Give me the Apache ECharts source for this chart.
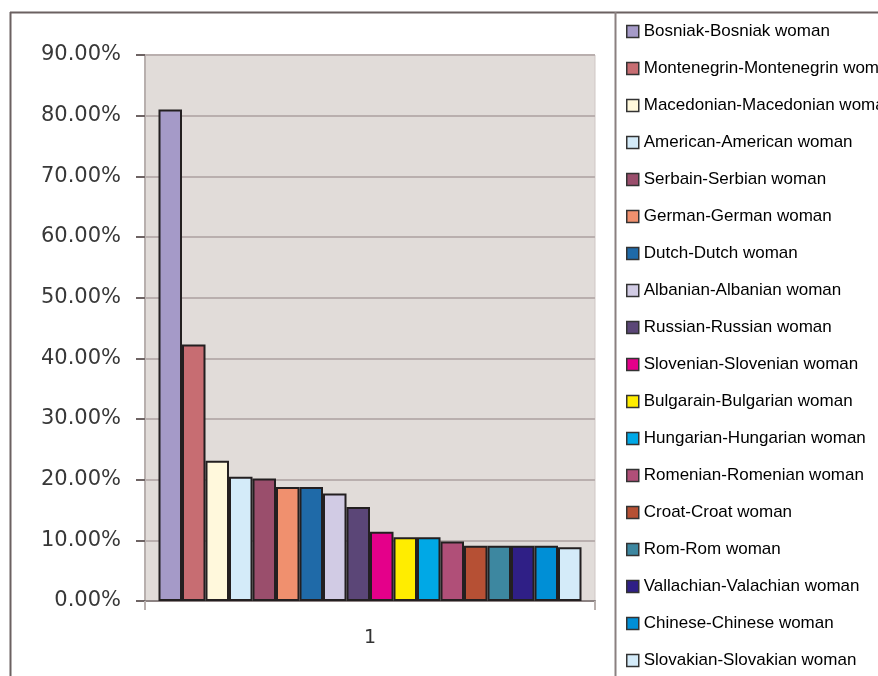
<!DOCTYPE html>
<html>
<head>
<meta charset="utf-8">
<script src="https://cdn.jsdelivr.net/npm/echarts@6/dist/echarts.min.js"></script>
<style>
html,body{margin:0;padding:0;background:#fff;}
#chart{width:878px;height:676px;}
</style>
</head>
<body>
<div id="chart"></div>
<script>
var categories = ['1'];
var seriesNames = [
  'Bosniak-Bosniak woman',
  'Montenegrin-Montenegrin woman',
  'Macedonian-Macedonian woman',
  'American-American woman',
  'Serbain-Serbian woman',
  'German-German woman',
  'Dutch-Dutch woman',
  'Albanian-Albanian woman',
  'Russian-Russian woman',
  'Slovenian-Slovenian woman',
  'Bulgarain-Bulgarian woman',
  'Hungarian-Hungarian woman',
  'Romenian-Romenian woman',
  'Croat-Croat woman',
  'Rom-Rom woman',
  'Vallachian-Valachian woman',
  'Chinese-Chinese woman',
  'Slovakian-Slovakian woman'
];
var seriesValues = [0.81, 0.423, 0.231, 0.205, 0.202, 0.188, 0.188, 0.177, 0.155, 0.114, 0.105, 0.105, 0.098, 0.091, 0.091, 0.091, 0.091, 0.0885];
var seriesColors = ['#a59ac8','#c76d72','#fff8dc','#d4ebf9','#9a4e6c','#f0906e','#1f6aa8','#d1cbe4','#5b4677','#e4008a','#ffed00','#00a8e6','#b04f78','#b65034','#3d87a0','#2f1f86','#008fd6','#d4ebf9'];
var yTicks = {min: 0, max: 0.9, interval: 0.1};

var chart = echarts.init(document.getElementById('chart'), null, {renderer: 'canvas'});

var series = seriesNames.map(function (name, i) {
  return {
    name: name,
    type: 'bar',
    data: [seriesValues[i]],
    barGap: '0%',
    barCategoryGap: '6%',
    itemStyle: {color: seriesColors[i], borderColor: '#231f20', borderWidth: 2},
    emphasis: {disabled: true}
  };
});

var option = {
  backgroundColor: '#ffffff',
  animation: false,
  grid: {
    left: 145, right: 283, top: 55, bottom: 75,
    show: true, backgroundColor: '#e1dcd9', borderColor: '#cfc7c4', borderWidth: 1
  },
  legend: {
    orient: 'vertical',
    left: 626,
    top: 22,
    padding: 0,
    itemWidth: 12,
    itemHeight: 12,
    itemGap: 18,
    icon: 'rect',
    itemStyle: {borderColor: '#333', borderWidth: 1.5},
    textStyle: {fontFamily: "'Liberation Sans', sans-serif", fontSize: 17, lineHeight: 19, color: '#000'},
    data: seriesNames
  },
  xAxis: {
    type: 'category',
    data: categories,
    axisLine: {lineStyle: {color: '#8c8282', width: 2}},
    axisTick: {show: true, length: 9, lineStyle: {color: '#b8b0ae', width: 2}},
    axisLabel: {fontFamily: "'DejaVu Sans', sans-serif", fontSize: 19, color: '#333', margin: 28},
    splitLine: {show: false}
  },
  yAxis: {
    type: 'value',
    min: yTicks.min,
    max: yTicks.max,
    interval: yTicks.interval,
    axisLine: {show: true, lineStyle: {color: '#b8b0ae', width: 2}},
    axisTick: {show: true, length: 9, lineStyle: {color: '#6e6464', width: 2}},
    axisLabel: {
      fontFamily: "'DejaVu Sans', sans-serif", fontSize: 21, color: '#383838', margin: 24,
      formatter: function (v) { return (v * 100).toFixed(2) + '%'; }
    },
    splitLine: {show: true, lineStyle: {color: '#b9afae', width: 2}}
  },
  graphic: [
    {type: 'line', shape: {x1: 10.5, y1: 12, x2: 10.5, y2: 676}, style: {stroke: '#6b6161', lineWidth: 2}, z: 100},
    {type: 'line', shape: {x1: 10, y1: 12.5, x2: 878, y2: 12.5}, style: {stroke: '#6b6161', lineWidth: 2}, z: 100},
    {type: 'line', shape: {x1: 615.5, y1: 12, x2: 615.5, y2: 676}, style: {stroke: '#8a8080', lineWidth: 2}, z: 100}
  ],
  series: series
};
chart.setOption(option);
</script>
</body>
</html>
